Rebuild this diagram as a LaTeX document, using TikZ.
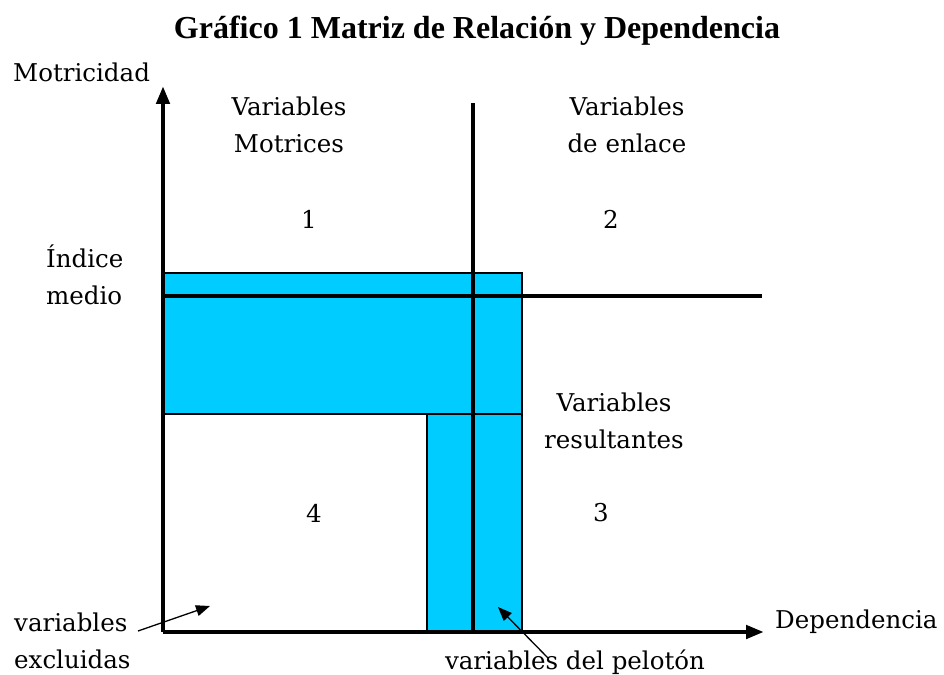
\documentclass[tikz,border=0pt]{standalone}
\usepackage{fontspec}
\setmainfont{DejaVu Serif}
\newfontfamily\titlefont{Liberation Serif}
\usetikzlibrary{arrows.meta}
\definecolor{zoneblue}{RGB}{0,204,255}
\tikzset{
  thick axis/.style={line width=4.5pt},
  thin edge/.style={line width=1.3pt},
  lbl/.style={inner sep=0pt, font=\fontsize{24.5}{37}\selectfont, align=center},
  lbll/.style={lbl, align=left, anchor=west},
  pointer/.style={line width=1.3pt, -{Triangle[length=14pt,width=11pt]}},
}
\begin{document}
\begin{tikzpicture}[x=1pt,y=-1pt]
\useasboundingbox (0,0) rectangle (944,674);
% blue zones
\fill[zoneblue] (163,273) rectangle (522,414);
\fill[zoneblue] (427,414) rectangle (522,632);
\draw[thin edge] (163,273) -- (522,273) -- (522,632);
\draw[thin edge] (163,414) -- (522,414);
\draw[thin edge] (427,414) -- (427,632);
% axes
\coordinate (o) at (163,632);
\coordinate (ytip) at (163,86);
\coordinate (xtip) at (764,632);
\draw[thick axis, -{Triangle[length=18pt,width=13pt]}] (o) -- (ytip);
\draw[thick axis, -{Triangle[length=18pt,width=13pt]}] (o) -- (xtip);
\coordinate (vtop) at (473,103);
\coordinate (vbot) at (473,632);
\draw[thick axis] (vtop) -- (vbot);
\coordinate (hl) at (163,296);
\coordinate (hr) at (762,296);
\draw[thick axis] (hl) -- (hr);
% title
\node[inner sep=0pt, font=\titlefont\bfseries\fontsize{32}{34}\selectfont] (title) at (477,31) {Gráfico 1 Matriz de Relación y Dependencia};
% labels
\node[lbll] (mot) at (13,72) {Motricidad};
\node[lbl] (vm) at (289,125) {Variables\\Motrices};
\node[lbl] (ve) at (627,125) {Variables\\de enlace};
\node[lbl] (n1) at (309,219) {1};
\node[lbl] (n2) at (611,219) {2};
\node[lbll] (im) at (46,275) {Índice\\medio};
\node[lbl] (vr) at (614,421) {Variables\\resultantes};
\node[lbl] (n4) at (314,513) {4};
\node[lbl] (n3) at (601,513) {3};
\node[lbll] (vx) at (14,641) {variables\\excluidas};
\node[lbll] (dep) at (775,622) {Dependencia};
\node[lbl] (vp) at (575,662) {variables del pelotón};
% pointers
\coordinate (p1s) at (138,631);
\coordinate (p1e) at (210,606);
\draw[pointer] (p1s) -- (p1e);
\coordinate (p2s) at (548,658);
\coordinate (p2e) at (498,607);
\draw[pointer] (p2s) -- (p2e);
\end{tikzpicture}
\end{document}
